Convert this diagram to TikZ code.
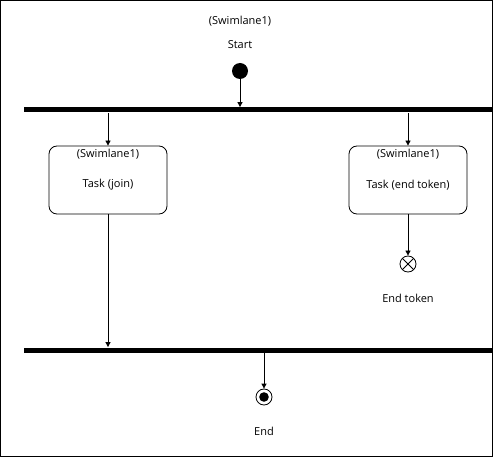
\documentclass[tikz,border=0pt]{standalone}
\usepackage{fontspec}
\setmainfont{Open Sans}
\usetikzlibrary{arrows.meta,positioning}

\begin{document}
\begin{tikzpicture}[x=1pt, y=-1pt, line width=0.8pt, >={Triangle[length=5pt,width=5pt]},
	font=\fontsize{11}{13}\selectfont,
	bar/.style = {fill, inner sep=0pt, minimum width=469pt, minimum height=5pt},
	task/.style = {draw, rounded corners=8pt, minimum width=118pt, minimum height=68pt},
	lane/.style = {inner sep=1pt}]
	\useasboundingbox (0,0) rectangle (493,457);
	\draw (0.5,0.5) rectangle (492.5,456.5);
	% start
	\node[circle, fill, minimum size=16pt, inner sep=0pt] (start) at (240,71) {};
	\node[lane] (startlane) at (240,21) {(Swimlane1)};
	\node[lane] (startlbl) at (240,45) {Start};
	% bars
	\node[bar] (bar1) at (258.5,110) {};
	\node[bar] (bar2) at (258.5,350) {};
	% tasks
	\node[task] (join) at (108,180) {};
	\node[lane] (joinlane) at (108,154) {(Swimlane1)};
	\node[lane] (joinlbl) at (108,185) {Task (join)};
	\node[task] (tokend) at (408,180) {};
	\node[lane] (tokendlane) at (408,154) {(Swimlane1)};
	\node[lane] (tokendlbl) at (408,185) {Task (end token)};
	% end token
	\node[circle, draw, minimum size=16pt, inner sep=0pt,
		path picture={\draw (path picture bounding box.north west) -- (path picture bounding box.south east)
			(path picture bounding box.north east) -- (path picture bounding box.south west);}] (endtok) at (408,264) {};
	\node[lane] (endtoklbl) at (408,298) {End token};
	% end
	\node[circle, draw, minimum size=16pt, inner sep=0pt,
		path picture={\fill (path picture bounding box.center) circle (4.8pt);}] (final) at (264,397) {};
	\node[lane] (finallbl) at (264,431) {End};
	% flows
	\draw[->] (start) -- (start |- bar1.north);
	\draw[->] (bar1.south -| join) -- (join);
	\draw[->] (bar1.south -| tokend) -- (tokend);
	\draw[->] (join) -- (join |- bar2.north);
	\draw[->] (tokend) -- (endtok);
	\draw[->] (bar2.south -| final) -- (final);
\end{tikzpicture}
\end{document}
